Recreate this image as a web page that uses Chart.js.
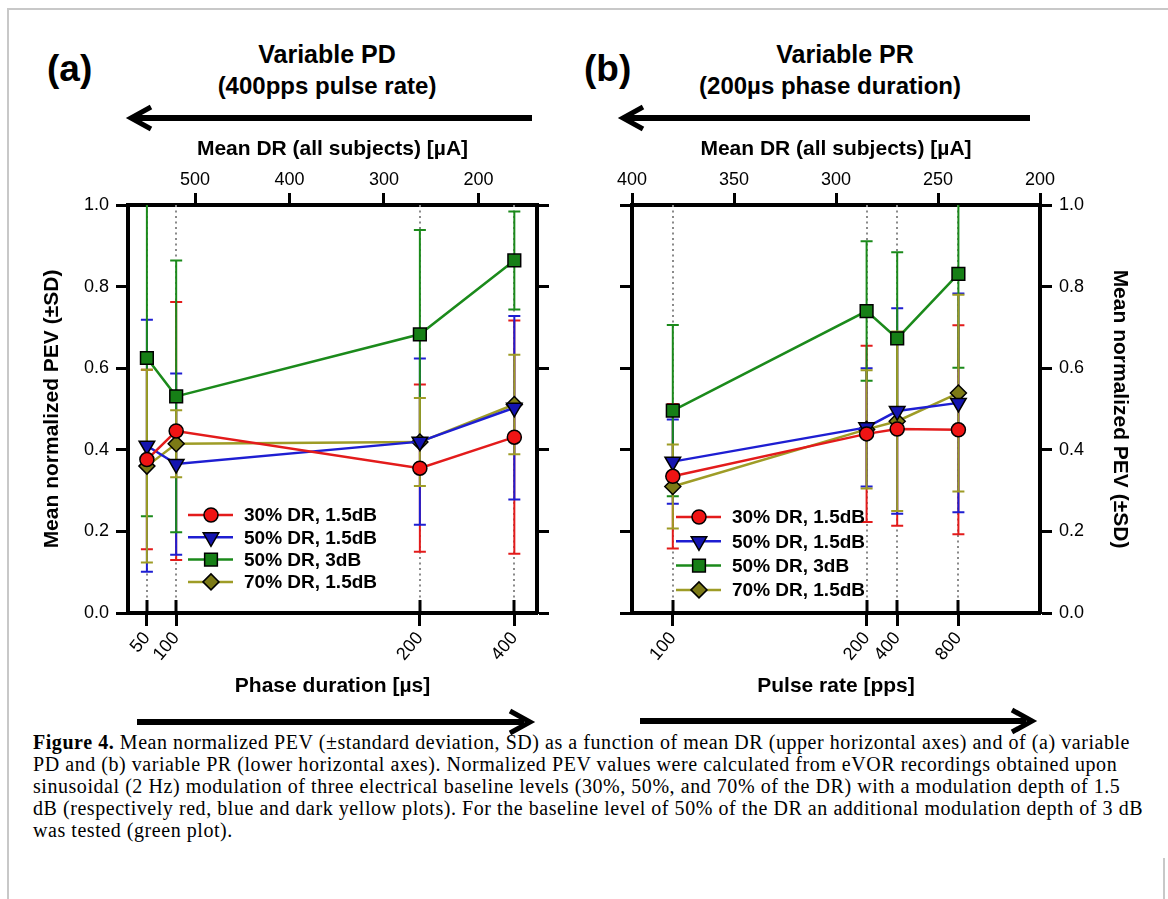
<!DOCTYPE html>
<html>
<head>
<meta charset="utf-8">
<script src="https://cdn.jsdelivr.net/npm/chart.js@4.4.1/dist/chart.umd.min.js"></script>
<style>
  body { margin: 0; background: #fff; width: 1168px; height: 899px; position: relative; overflow: hidden;
         font-family: "Liberation Sans", Arial, sans-serif; color: #000; }
  canvas { position: absolute; }
  .t { position: absolute; font-weight: bold; white-space: nowrap; line-height: 1; }
  .c { transform: translateX(-50%); }
  #caption { position: absolute; left: 33px; top: 731px; font-family: "Liberation Serif", "Times New Roman", serif;
             font-size: 20px; letter-spacing: 0.55px; line-height: 22px; white-space: nowrap; }
  #frame { position: absolute; left: 7px; top: 8px; width: 1170px; height: 900px;
           border-left: 2px solid #c8c8c8; border-top: 2px solid #c8c8c8; }
  #frameR { position: absolute; left: 1163px; top: 858px; width: 0; height: 41px; border-left: 2px solid #c8c8c8; }
</style>
</head>
<body>
<div id="frame"></div>
<div id="frameR"></div>

<div class="t" style="left:47px; top:50px; font-size:37px;">(a)</div>
<div class="t c" style="left:327px; top:42px; font-size:25px;">Variable PD</div>
<div class="t c" style="left:327px; top:74px; font-size:24px;">(400pps pulse rate)</div>
<div class="t" style="left:584px; top:50px; font-size:37px;">(b)</div>
<div class="t c" style="left:845px; top:42px; font-size:25px;">Variable PR</div>
<div class="t c" style="left:830px; top:74px; font-size:24px;">(200µs phase duration)</div>

<svg width="1168" height="899" style="position:absolute;left:0;top:0" fill="none" stroke="#000">
  <g stroke-width="6">
    <line x1="134" y1="118" x2="532" y2="118"/>
    <line x1="626" y1="118" x2="1030" y2="118"/>
    <line x1="137" y1="722" x2="524" y2="722"/>
    <line x1="640" y1="721" x2="1026" y2="721"/>
  </g>
  <g stroke-width="5" stroke-linejoin="miter">
    <polyline points="151,107 131,118 151,129"/>
    <polyline points="643,107 623,118 643,129"/>
    <polyline points="510,711 530,722 510,733"/>
    <polyline points="1012,710 1032,721 1012,732"/>
  </g>
</svg>

<canvas id="chartA" width="580" height="580" style="left:0;top:130px"></canvas>
<canvas id="chartB" width="588" height="580" style="left:580px;top:130px"></canvas>

<div id="caption"><b>Figure 4.</b> Mean normalized PEV (±standard deviation, SD) as a function of mean DR (upper horizontal axes) and of (a) variable<br>PD and (b) variable PR (lower horizontal axes). Normalized PEV values were calculated from eVOR recordings obtained upon<br>sinusoidal (2 Hz) modulation of three electrical baseline levels (30%, 50%, and 70% of the DR) with a modulation depth of 1.5<br>dB (respectively red, blue and dark yellow plots). For the baseline level of 50% of the DR an additional modulation depth of 3 dB<br>was tested (green plot).</div>

<script>
// categories and axis values
const seriesNames = ['30% DR, 1.5dB', '50% DR, 1.5dB', '50% DR, 3dB', '70% DR, 1.5dB'];
const pdLabels = ['50', '100', '200', '400'];      // phase duration [µs]
const drPD = [551, 520, 262, 162];                 // mean DR for each PD [µA]
const prLabels = ['100', '200', '400', '800'];     // pulse rate [pps]
const drPR = [380, 285, 270, 240];                 // mean DR for each PR [µA]
const drTicksA = [500, 400, 300, 200];
const drTicksB = [400, 350, 300, 250, 200];
const pevTicks = [0, 0.2, 0.4, 0.6, 0.8, 1.0];

// panel (a): mean normalized PEV and SD
const pev30A = [0.376, 0.446, 0.355, 0.431];
const sd30A = [0.22, 0.316, 0.205, 0.286];
const pev50A = [0.41, 0.365, 0.42, 0.503];
const sd50A = [0.309, 0.222, 0.204, 0.225];
const pev50x3A = [0.625, 0.531, 0.683, 0.864];
const sd50x3A = [0.388, 0.333, 0.256, 0.12];
const pev70A = [0.36, 0.415, 0.419, 0.511];
const sd70A = [0.236, 0.082, 0.108, 0.122];

// panel (b)
const pev30B = [0.335, 0.439, 0.451, 0.449];
const sd30B = [0.177, 0.216, 0.237, 0.256];
const pev50B = [0.371, 0.455, 0.495, 0.515];
const sd50B = [0.103, 0.145, 0.252, 0.268];
const pev50x3B = [0.496, 0.74, 0.673, 0.831];
const sd50x3B = [0.21, 0.171, 0.211, 0.23];
const pev70B = [0.31, 0.45, 0.47, 0.539];
const sd70B = [0.103, 0.145, 0.22, 0.241];

const styles = [
  { line: '#e31b1b', fill: '#f01414', shape: 'circle', r: 7, rot: 0 },
  { line: '#1e1ed2', fill: '#1414b0', shape: 'triangle', r: 9, rot: 180 },
  { line: '#1b8a1b', fill: '#167f16', shape: 'rect', r: 9, rot: 0 },
  { line: '#9e9c26', fill: '#7c7a16', shape: 'rectRot', r: 8, rot: 0 }
];
const errOrder = [0, 1, 2, 3];

Chart.defaults.font.family = '"Liberation Sans", Arial, sans-serif';
Chart.defaults.color = '#000';

function makeDatasets(xs, series, sds) {
  return series.map((vals, k) => ({
    label: seriesNames[k],
    data: vals.map((v, i) => ({ x: xs[i], y: v })),
    sd: sds[k],
    borderColor: styles[k].line,
    backgroundColor: styles[k].fill,
    borderWidth: 2.5,
    pointStyle: styles[k].shape,
    pointRadius: styles[k].r,
    pointRotation: styles[k].rot,
    pointBackgroundColor: styles[k].fill,
    pointBorderColor: '#000',
    pointBorderWidth: 1.5,
    tension: 0
  }));
}

function drawMarker(ctx, shape, x, y, r, rot) {
  ctx.beginPath();
  if (shape === 'circle') {
    ctx.arc(x, y, r, 0, Math.PI * 2);
  } else if (shape === 'rect') {
    const s = Math.SQRT1_2 * r;
    ctx.rect(x - s, y - s, 2 * s, 2 * s);
  } else if (shape === 'rectRot') {
    ctx.moveTo(x - r, y); ctx.lineTo(x, y - r); ctx.lineTo(x + r, y); ctx.lineTo(x, y + r);
    ctx.closePath();
  } else {
    let a = rot * Math.PI / 180;
    ctx.moveTo(x + Math.sin(a) * r, y - Math.cos(a) * r);
    a += 2 * Math.PI / 3;
    ctx.lineTo(x + Math.sin(a) * r, y - Math.cos(a) * r);
    a += 2 * Math.PI / 3;
    ctx.lineTo(x + Math.sin(a) * r, y - Math.cos(a) * r);
    ctx.closePath();
  }
  ctx.fill();
  ctx.stroke();
}

// dotted guides, inner tick halves and ±SD bars
const errorBars = {
  id: 'errorBars',
  beforeDatasetsDraw(chart, args, opts) {
    const { ctx, chartArea: a, scales: { x, y } } = chart;
    ctx.save();
    ctx.beginPath();
    ctx.rect(a.left, a.top, a.right - a.left, a.bottom - a.top);
    ctx.clip();
    ctx.strokeStyle = '#8a8a8a';
    ctx.lineWidth = 2;
    ctx.setLineDash([2, 3.5]);
    opts.guides.forEach(v => {
      const px = Math.round(x.getPixelForValue(v));
      ctx.beginPath(); ctx.moveTo(px, a.top); ctx.lineTo(px, a.bottom); ctx.stroke();
    });
    ctx.setLineDash([]);
    ctx.strokeStyle = '#000';
    ctx.lineWidth = 3;
    opts.guides.forEach(v => {
      const px = Math.round(x.getPixelForValue(v));
      ctx.beginPath(); ctx.moveTo(px, a.bottom - 13); ctx.lineTo(px, a.bottom); ctx.stroke();
    });
    ctx.lineWidth = 2;
    errOrder.forEach(k => {
      const ds = chart.data.datasets[k];
      ctx.strokeStyle = ds.borderColor;
      ds.data.forEach((p, i) => {
        const px = x.getPixelForValue(p.x);
        const yt = y.getPixelForValue(p.y + ds.sd[i]);
        const yb = y.getPixelForValue(p.y - ds.sd[i]);
        ctx.beginPath();
        ctx.moveTo(px, yt); ctx.lineTo(px, yb);
        ctx.moveTo(px - 6, yt); ctx.lineTo(px + 6, yt);
        ctx.moveTo(px - 6, yb); ctx.lineTo(px + 6, yb);
        ctx.stroke();
      });
    });
    ctx.restore();
  }
};

const boxLegend = {
  id: 'boxLegend',
  afterDraw(chart, args, opts) {
    const ctx = chart.ctx;
    ctx.save();
    ctx.font = 'bold 19px "Liberation Sans", Arial, sans-serif';
    ctx.textBaseline = 'middle';
    chart.data.datasets.forEach((ds, k) => {
      const yy = opts.y + k * opts.dy;
      ctx.strokeStyle = ds.borderColor;
      ctx.lineWidth = 2.5;
      ctx.beginPath(); ctx.moveTo(opts.x, yy); ctx.lineTo(opts.x + 45, yy); ctx.stroke();
      ctx.fillStyle = styles[k].fill;
      ctx.strokeStyle = '#000';
      ctx.lineWidth = 1.5;
      drawMarker(ctx, styles[k].shape, opts.x + 23, yy, styles[k].r, styles[k].rot);
      ctx.fillStyle = '#000';
      ctx.fillText(ds.label, opts.x + 56, yy + 1);
    });
    ctx.restore();
  }
};

const axisLine = { width: 4, color: '#000' };
const tickGrid = { drawOnChartArea: false, tickLength: 12, tickWidth: 3, tickColor: '#000' };
const tickFont = { size: 18 };
const titleFont = { size: 21, weight: 'bold' };

function panel(id, o) {
  return new Chart(document.getElementById(id), {
    type: 'line',
    data: { datasets: makeDatasets(o.xs, o.series, o.sds) },
    plugins: [errorBars, boxLegend],
    options: {
      responsive: false,
      animation: false,
      layout: { padding: 0 },
      plugins: {
        legend: { display: false },
        tooltip: { enabled: false },
        errorBars: { guides: o.xs },
        boxLegend: o.legend
      },
      scales: {
        x: {
          type: 'linear', position: 'bottom', min: o.min, max: o.max, reverse: true,
          afterBuildTicks: s => { s.ticks = o.xs.map(v => ({ value: v })); },
          afterFit: s => { s.height = 97; },
          ticks: { autoSkip: false, minRotation: 50, maxRotation: 50, padding: 2, font: tickFont,
                   callback: v => o.labels[o.xs.indexOf(v)] },
          grid: Object.assign({}, tickGrid, { tickLength: 13 }),
          border: axisLine,
          title: { display: true, text: o.xTitle, font: titleFont, padding: { top: 0, bottom: 11 } }
        },
        x2: {
          type: 'linear', position: 'top', min: o.min, max: o.max, reverse: true,
          afterBuildTicks: s => { s.ticks = o.topTicks.map(v => ({ value: v })); },
          afterFit: s => { s.height = 75; },
          ticks: { padding: 2, font: tickFont, autoSkip: false },
          grid: tickGrid,
          border: axisLine,
          title: { display: true, text: 'Mean DR (all subjects) [µA]', font: titleFont, padding: { top: 7, bottom: 0 } }
        },
        y: {
          position: 'left', min: 0, max: 1,
          afterBuildTicks: s => { s.ticks = pevTicks.map(v => ({ value: v })); },
          afterFit: s => { s.width = o.leftW; },
          ticks: { padding: 7, font: tickFont, color: o.yLeft ? '#000' : 'rgba(0,0,0,0)',
                   callback: v => o.yLeft ? v.toFixed(1) : '' },
          grid: tickGrid,
          border: axisLine,
          title: { display: o.yLeft, text: 'Mean normalized PEV (±SD)', font: titleFont, padding: { top: 40 } }
        },
        y2: {
          position: 'right', min: 0, max: 1,
          afterBuildTicks: s => { s.ticks = pevTicks.map(v => ({ value: v })); },
          afterFit: s => { s.width = o.rightW; },
          ticks: { padding: 7, font: tickFont, color: o.yLeft ? 'rgba(0,0,0,0)' : '#000',
                   callback: v => o.yLeft ? '' : v.toFixed(1) },
          grid: tickGrid,
          border: axisLine,
          title: { display: !o.yLeft, text: 'Mean normalized PEV (±SD)', font: titleFont, padding: { top: 36 } }
        }
      }
    }
  });
}

panel('chartA', {
  xs: drPD, labels: pdLabels, topTicks: drTicksA, min: 138, max: 571,
  series: [pev30A, pev50A, pev50x3A, pev70A], sds: [sd30A, sd50A, sd50x3A, sd70A],
  xTitle: 'Phase duration [µs]', yLeft: true, leftW: 128, rightW: 43,
  legend: { x: 188, y: 385, dy: 22.3 }
});

panel('chartB', {
  xs: drPR, labels: prLabels, topTicks: drTicksB, min: 200, max: 400,
  series: [pev30B, pev50B, pev50x3B, pev70B], sds: [sd30B, sd50B, sd50x3B, sd70B],
  xTitle: 'Pulse rate [pps]', yLeft: false, leftW: 52, rightW: 128,
  legend: { x: 96, y: 387, dy: 24.3 }
});
</script>
</body>
</html>
